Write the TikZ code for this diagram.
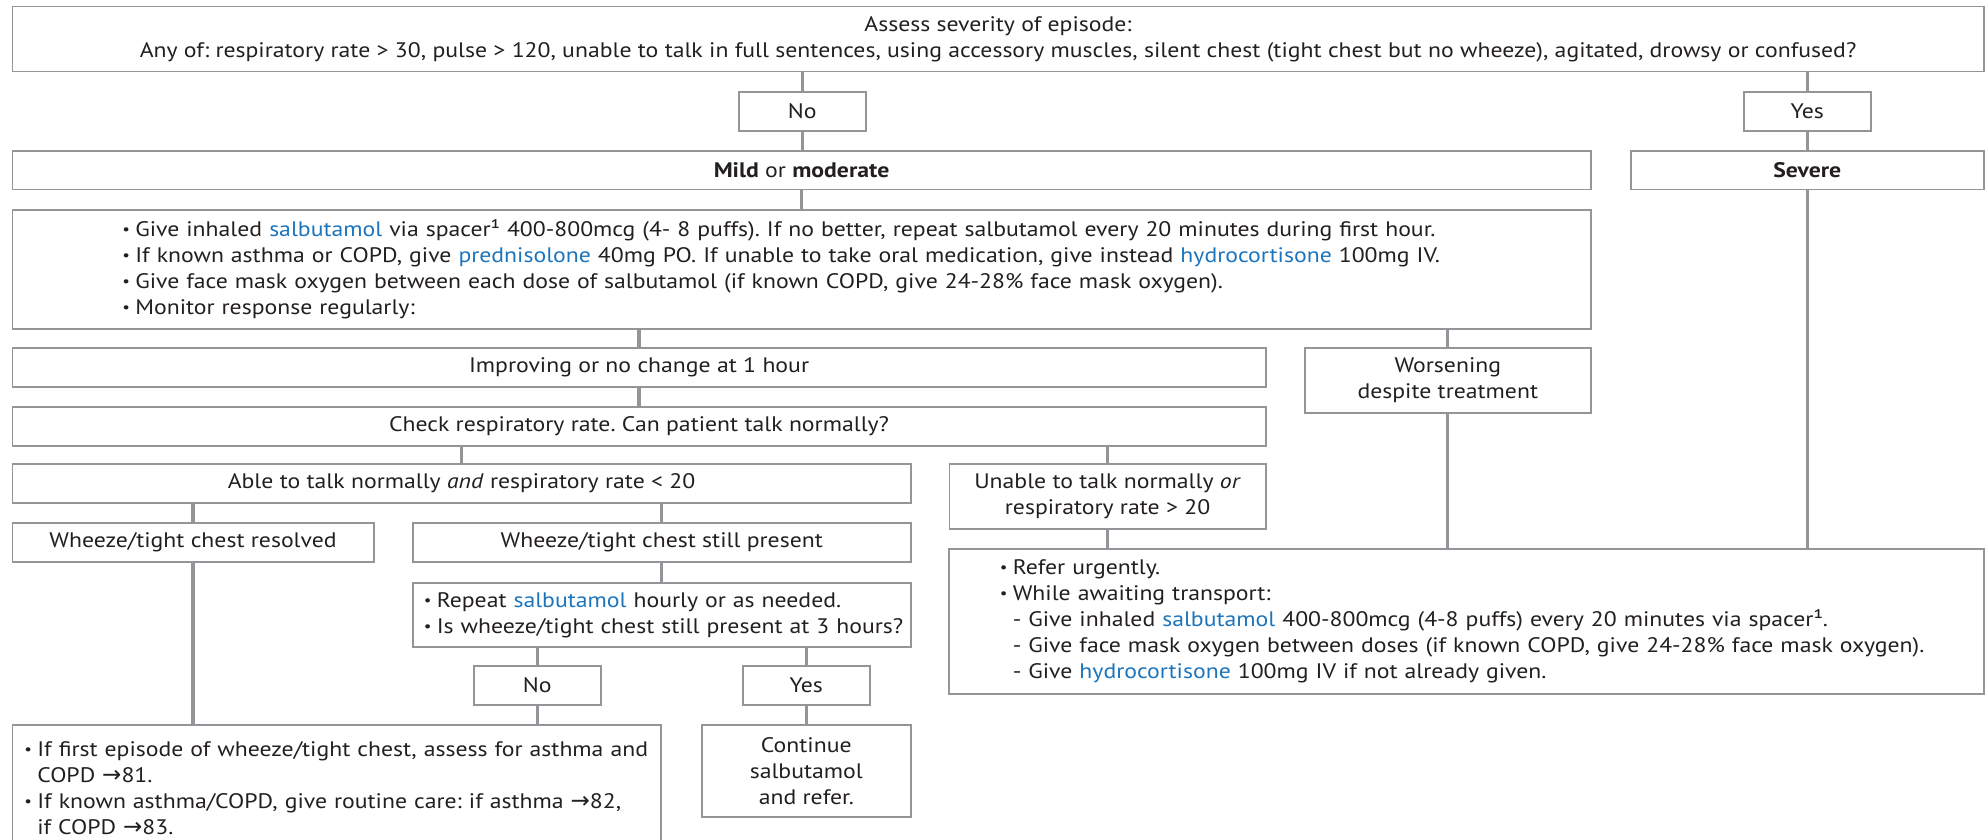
\documentclass[tikz,border=0pt]{standalone}
\usepackage{fontspec}
\setmainfont[FakeStretch=1.13]{PT Sans}
\newfontfamily\symfont{DejaVu Sans}
\definecolor{lg}{RGB}{147,149,152}
\definecolor{tx}{RGB}{35,31,32}
\definecolor{bl}{RGB}{28,117,188}
\newcommand\drug[1]{\textcolor{bl}{#1}}
\newcommand\mybul{\makebox[13pt][l]{\fontsize{15}{15}\selectfont\raisebox{1.6pt}{•}}}
\newcommand\myind{\hspace*{13pt}}
\newcommand\myarr{{\symfont\fontsize{23}{23}\selectfont →}}
\frenchspacing
\begin{document}
\begin{tikzpicture}[x=1pt,y=-1pt,
  box/.style={draw=lg, line width=1.6pt, fill=white, inner sep=0pt, text=tx,
    font=\fontsize{21}{26}\selectfont, anchor=north west},
  cbox/.style n args={2}{box, align=center, minimum width=#1, minimum height=#2},
  lbox/.style n args={2}{box, align=left, text width=#1, minimum height=#2},
  conn/.style={draw=lg, line width=3.2pt}]
\useasboundingbox (0,0) rectangle (1986,839);
\fill[white] (0,0) rectangle (1986,839);

% boxes
\node[cbox={1971.5}{65}] (top) at (11.5,5.7) {Assess severity of episode:\\Any of: respiratory rate > 30, pulse > 120, unable to talk in full sentences, using accessory muscles, silent chest (tight chest but no wheeze), agitated, drowsy or confused?};
\node[cbox={127}{39}] (no) at (738,91) {No};
\node[cbox={127}{39}] (yes) at (1743,91) {Yes};
\node[cbox={1578.5}{38.5}] (mild) at (11.5,150) {\textbf{Mild} or \textbf{moderate}};
\node[cbox={353}{38.5}] (severe) at (1630,150) {\textbf{Severe}};
\node[lbox={1578.5}{119}] (bul) at (11.5,209) {\leftskip=110pt\relax
  \mybul Give inhaled \drug{salbutamol} via spacer¹ 400-800mcg (4- 8 puffs). If no better, repeat salbutamol every 20 minutes during first hour.\\
  \mybul If known asthma or COPD, give \drug{prednisolone} 40mg PO. If unable to take oral medication, give instead \drug{hydrocortisone} 100mg IV.\\
  \mybul Give face mask oxygen between each dose of salbutamol (if known COPD, give 24-28\% face mask oxygen).\\
  \mybul Monitor response regularly:\par};
\node[cbox={1253.5}{39}] (impr) at (11.5,347) {Improving or no change at 1 hour};
\node[cbox={286}{65}] (wors) at (1304,347) {Worsening\\despite treatment};
\node[cbox={1253.5}{39}] (check) at (11.5,406) {Check respiratory rate. Can patient talk normally?};
\node[cbox={898.5}{39}] (able) at (11.5,463) {Able to talk normally \textit{and} respiratory rate < 20};
\node[cbox={316.5}{65}] (unable) at (948.5,463) {Unable to talk normally \textit{or}\\respiratory rate > 20};
\node[cbox={361.5}{39}] (res) at (11.5,522) {Wheeze/tight chest resolved};
\node[cbox={498}{39}] (still) at (412,522) {Wheeze/tight chest still present};
\node[lbox={1035}{145}] (refer) at (948,548) {\leftskip=51pt\relax
  \mybul Refer urgently.\\
  \mybul While awaiting transport:\\
  \myind- Give inhaled \drug{salbutamol} 400-800mcg (4-8 puffs) every 20 minutes via spacer¹.\\
  \myind- Give face mask oxygen between doses (if known COPD, give 24-28\% face mask oxygen).\\
  \myind- Give \drug{hydrocortisone} 100mg IV if not already given.\par};
\node[lbox={498}{64}] (rep) at (412,582) {\leftskip=11pt\relax
  \mybul Repeat \drug{salbutamol} hourly or as needed.\\
  \mybul Is wheeze/tight chest still present at 3 hours?\par};
\node[cbox={127}{39}] (no2) at (473,665) {No};
\node[cbox={127}{39}] (yes2) at (742,665) {Yes};
\node[lbox={648.5}{126}] (bleft) at (11.5,724) {\leftskip=12pt\relax
  \mybul If first episode of wheeze/tight chest, assess for asthma and\\
  \myind COPD \myarr81.\\
  \mybul If known asthma/COPD, give routine care: if asthma \myarr82,\\
  \myind if COPD \myarr83.\par};
\node[cbox={209}{92}] (cont) at (701,724) {Continue\\salbutamol\\and refer.};

% connectors
\draw[conn] (no.north |- top.south) -- (no.north);
\draw[conn] (yes.north |- top.south) -- (yes.north);
\draw[conn] (no.south) -- (no.south |- mild.north);
\draw[conn] (yes.south) -- (yes.south |- severe.north);
\draw[conn] (mild.south) -- (mild.south |- bul.north);
\draw[conn] (impr.north |- bul.south) -- (impr.north);
\draw[conn] (wors.north |- bul.south) -- (wors.north);
\draw[conn] (impr.south) -- (impr.south |- check.north);
\draw[conn] (able.north |- check.south) -- (able.north);
\draw[conn] (unable.north |- check.south) -- (unable.north);
\draw[conn] (res.north |- able.south) -- (res.north);
\draw[conn] (still.north |- able.south) -- (still.north);
\draw[conn] (res.south) -- (res.south |- bleft.north);
\draw[conn] (still.south) -- (still.south |- rep.north);
\draw[conn] (no2.north |- rep.south) -- (no2.north);
\draw[conn] (yes2.north |- rep.south) -- (yes2.north);
\draw[conn] (no2.south) -- (no2.south |- bleft.north);
\draw[conn] (yes2.south) -- (yes2.south |- cont.north);
\draw[conn] (unable.south) -- (unable.south |- refer.north);
\draw[conn] (wors.south) -- (wors.south |- refer.north);
\draw[conn] (severe.south) -- (severe.south |- refer.north);
\end{tikzpicture}
\end{document}
